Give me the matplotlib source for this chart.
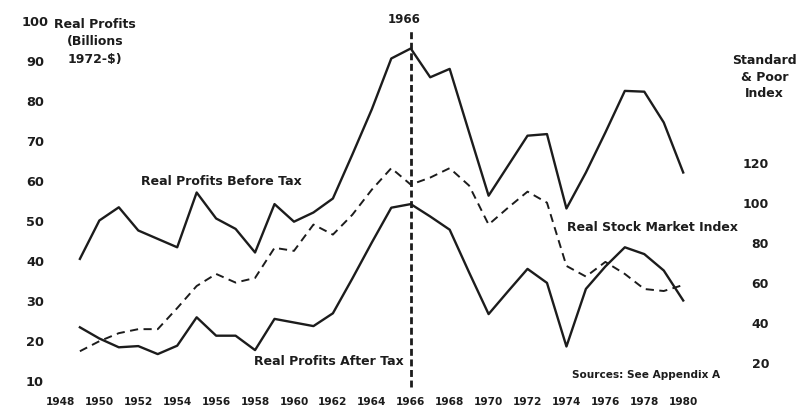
import numpy as np
import matplotlib
matplotlib.use('Agg')
from matplotlib import pyplot as plt

#########################################################################
#========  Dados
#########################################################################
anos = list(range(1949, 1981))

lucro_antes_ir = [40.4, 50.0, 53.3, 47.5, 45.4, 43.3, 57.0, 50.5, 47.9, 42.0,
                  54.1, 49.7, 52.0, 55.5, 66.5, 77.8, 90.5, 93.0, 85.8, 87.9,
                  72.0, 56.2, 63.7, 71.2, 71.6, 53.0, 62.0, 72.0, 82.4, 82.2,
                  74.5, 62.0]

lucro_depois_ir = [23.3, 20.5, 18.3, 18.6, 16.6, 18.7, 25.8, 21.2, 21.2, 17.6,
                   25.4, 24.5, 23.6, 26.8, 35.5, 44.5, 53.2, 54.1, 51.0, 47.7,
                   37.0, 26.6, 32.3, 37.9, 34.4, 18.5, 32.9, 38.5, 43.3, 41.6,
                   37.5, 30.0]

indice_sp = [25.5, 30.5, 34.5, 36.5, 36.5, 47.0, 58.0, 64.0, 59.7, 62.0,
             77.0, 75.5, 88.6, 83.6, 93.5, 106.0, 116.7, 108.5, 112.0, 116.7,
             108.0, 88.6, 97.0, 105.0, 99.5, 68.0, 62.7, 70.0, 64.0, 56.5,
             55.5, 58.5]

anos_ticks = list(range(1948, 1981, 2))
ticks_esq = list(range(10, 101, 10))
ticks_dir = list(range(20, 121, 20))
ano_marco = 1966

#########################################################################
#========  Grafico
#########################################################################
cor = '#1c1c1c'
plt.rcParams['font.family'] = 'DejaVu Sans'
plt.rcParams['font.weight'] = 'bold'

fig = plt.figure(figsize=(8, 4.06), dpi=100)
ax = fig.add_axes([0.05, 0.0271, 0.85, 0.936])
ax2 = ax.twinx()

ax.plot(anos, lucro_antes_ir, '-', color=cor, linewidth=1.7)
ax.plot(anos, lucro_depois_ir, '-', color=cor, linewidth=1.7)
ax2.plot(anos, indice_sp, '--', color=cor, linewidth=1.4, dashes=(4.2, 2.8))
ax.vlines(ano_marco, 8.3, 97.3, color=cor, linewidth=2.0, linestyles=(0, (2.5, 1.3)))

ax.set_xlim(1946.95, 1981.89)
ax.set_ylim(6.625, 101.625)
ax2.set_ylim(4.2, 193.5)

ax.set_xticks(anos_ticks)
ax.set_xticklabels([str(a) for a in anos_ticks], fontsize=7.6, color=cor)
ax.set_yticks(ticks_esq)
ax.set_yticklabels([str(v) for v in ticks_esq], fontsize=9.3, color=cor, ha='center')
ax2.set_yticks(ticks_dir)
ax2.set_yticklabels([str(v) for v in ticks_dir], fontsize=9, color=cor, ha='right')

ax.tick_params(axis='x', length=0, pad=1.2)
ax.tick_params(axis='y', length=0, pad=3.6)
ax2.tick_params(axis='y', length=0, pad=35.3)

for a in (ax, ax2):
    for s in a.spines.values():
        s.set_visible(False)

# textos
ax.text(1949.77, 94.9, 'Real Profits\n(Billions\n1972-$)', fontsize=9, color=cor,
        ha='center', va='center', multialignment='center', linespacing=1.45)
ax.text(1965.65, 100.4, '1966', fontsize=8.5, color=cor, ha='center', va='center')
ax.text(1956.25, 60.1, 'Real Profits Before Tax', fontsize=9, color=cor, ha='center', va='center')
ax.text(1961.8, 14.9, 'Real Profits After Tax', fontsize=9, color=cor, ha='center', va='center')
ax.text(1978.4, 48.6, 'Real Stock Market Index', fontsize=9, color=cor, ha='center', va='center')
ax.text(1978.1, 11.6, 'Sources: See Appendix A', fontsize=7.6, color=cor, ha='center', va='center')
fig.text(0.956, 0.81, 'Standard\n& Poor\nIndex', fontsize=9, color=cor,
         ha='center', va='center', multialignment='center', linespacing=1.35)

plt.savefig('out.png', dpi=100)
